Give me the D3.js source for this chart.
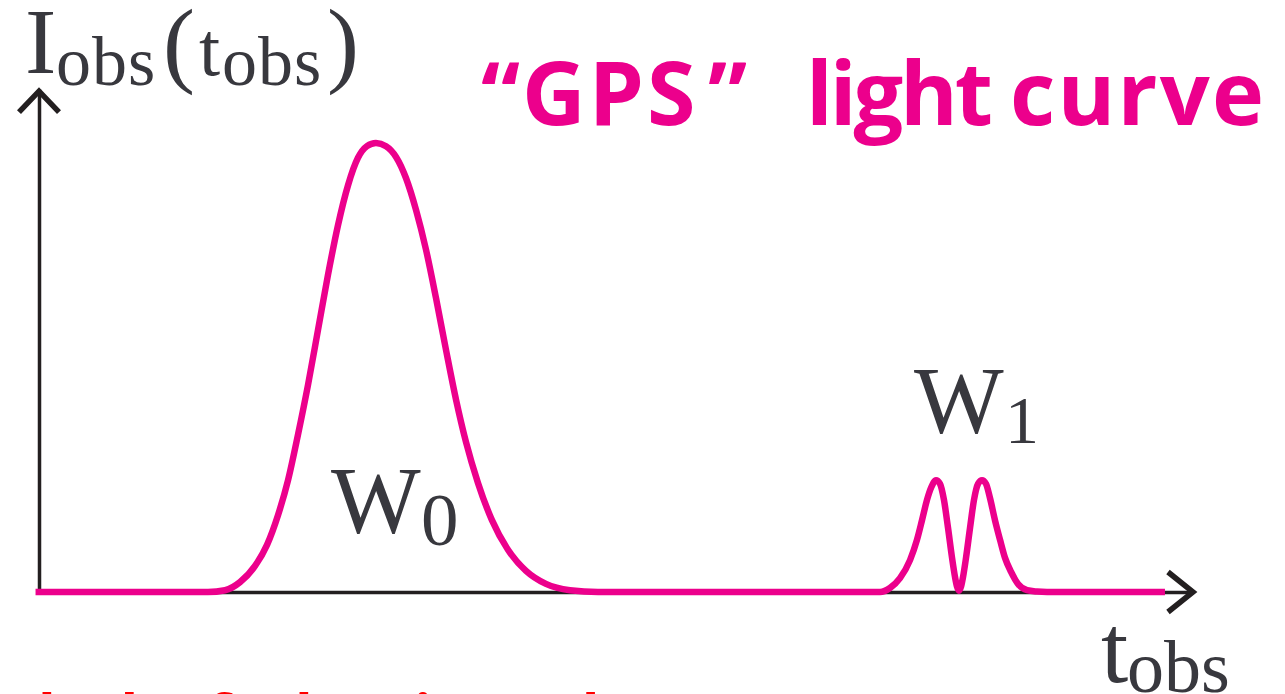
<!DOCTYPE html>
<html>
<head>
<meta charset="utf-8">
<script src="https://cdn.jsdelivr.net/npm/d3@7"></script>
<style>
  html, body { margin: 0; padding: 0; background: #ffffff; overflow: hidden; }
  svg { display: block; }
</style>
</head>
<body>
<svg id="chart" width="1285" height="694"></svg>
<script>
// Observed time (arbitrary units) and normalised intensity of the first, broad pulse W0
const pulseW0Time = [1.464, 1.612, 1.742, 1.872, 1.976, 2.071, 2.158, 2.244, 2.331, 2.418, 2.504,
  2.591, 2.678, 2.764, 2.842, 2.920, 3.007, 3.094, 3.180, 3.267, 3.354, 3.440, 3.527, 3.614,
  3.700, 3.804, 3.925, 4.064, 4.220, 4.393, 4.601, 4.844];
const pulseW0Intensity = [0, 0.004, 0.022, 0.058, 0.105, 0.171, 0.249, 0.350, 0.461, 0.584, 0.706,
  0.817, 0.906, 0.967, 0.993, 1.000, 0.993, 0.969, 0.922, 0.851, 0.762, 0.655, 0.539, 0.428,
  0.334, 0.243, 0.160, 0.094, 0.047, 0.018, 0.004, 0];

// Second episode W1: two narrow sub-pulses
const pulseW1Time = [7.288, 7.374, 7.461, 7.548, 7.608, 7.652, 7.695, 7.730, 7.773, 7.808, 7.842,
  7.877, 7.912, 7.938, 7.955, 7.972, 7.990, 8.007, 8.033, 8.068, 8.102, 8.137, 8.172, 8.206, 8.241,
  8.284, 8.328, 8.371, 8.423, 8.484, 8.562, 8.648, 8.735];
const pulseW1Intensity = [0, 0.009, 0.031, 0.071, 0.116, 0.160, 0.205, 0.232, 0.249, 0.241, 0.205,
  0.143, 0.076, 0.033, 0.012, 0.003, 0.012, 0.033, 0.076, 0.143, 0.205, 0.241, 0.249, 0.241, 0.209,
  0.160, 0.116, 0.076, 0.045, 0.018, 0.004, 0.001, 0];

// Quiescent level before and after the two episodes
const quietStart = [-0.03, 0];
const quietEnd = [9.757, 0];

const pulseNames = ["W", "W"];
const pulseIndices = ["0", "1"];
const titleParts = ["\u201C", "GPS", "\u201D", "light", "curve"];
const footnote = "lack of a lensing echo";

// ---- layout ----
const svg = d3.select("#chart");
const axisColor = "#231f20";
const curveColor = "#ec008c";
const textColor = "#38383e";

const x = d3.scaleLinear().domain([0, 10]).range([39, 1193]);
const y = d3.scaleLinear().domain([0, 1.12]).range([592, 592 - 1.12 * 449]);

// Axes: bare domain lines, no ticks
const xAxis = d3.axisBottom(x).tickValues([]).tickSizeOuter(0);
const yAxis = d3.axisLeft(y).tickValues([]).tickSizeOuter(0);

svg.append("g")
  .attr("transform", `translate(0,${y(0)})`)
  .call(xAxis)
  .call(g => g.select(".domain").attr("stroke", axisColor).attr("stroke-width", 3.5));

svg.append("g")
  .attr("transform", `translate(${x(0)},0)`)
  .call(yAxis)
  .call(g => g.select(".domain").attr("stroke", axisColor).attr("stroke-width", 3.5));

// Chevron arrowheads at the ends of the axes
const xEnd = x(10), yTop = y(1.12), x0 = x(0), y0 = y(0);
svg.append("path")
  .attr("d", `M${xEnd - 25},${y0 - 20}L${xEnd},${y0}L${xEnd - 25},${y0 + 20}`)
  .attr("fill", "none").attr("stroke", axisColor).attr("stroke-width", 5.5)
  .attr("stroke-linejoin", "miter");
svg.append("path")
  .attr("d", `M${x0 - 20},${yTop + 23}L${x0},${yTop + 2}L${x0 + 20},${yTop + 23}`)
  .attr("fill", "none").attr("stroke", axisColor).attr("stroke-width", 5.5)
  .attr("stroke-linejoin", "miter");

// Light curve
const points = [quietStart]
  .concat(pulseW0Time.map((t, i) => [t, pulseW0Intensity[i]]))
  .concat(pulseW1Time.map((t, i) => [t, pulseW1Intensity[i]]))
  .concat([quietEnd]);

const line = d3.line()
  .x(d => x(d[0]))
  .y(d => y(d[1]))
  .curve(d3.curveMonotoneX);

svg.append("path")
  .datum(points)
  .attr("d", line)
  .attr("fill", "none")
  .attr("stroke", curveColor)
  .attr("stroke-width", 6.5)
  .attr("stroke-linejoin", "round");

// Axis labels
const serif = "'Liberation Serif', 'Times New Roman', serif";
const yLabel = svg.append("text")
  .attr("font-family", serif).attr("fill", textColor);
yLabel.append("tspan").attr("x", 25).attr("y", 73).attr("font-size", 94).text("I");
yLabel.append("tspan").attr("x", 56).attr("y", 85).attr("font-size", 70).attr("letter-spacing", 1).text("obs");
yLabel.append("tspan").attr("x", 163).attr("y", 75).attr("font-size", 96).text("(");
yLabel.append("tspan").attr("x", 199).attr("y", 75).attr("font-size", 76).text("t");
yLabel.append("tspan").attr("x", 222).attr("y", 85).attr("font-size", 70).attr("letter-spacing", 1).text("obs");
yLabel.append("tspan").attr("x", 327).attr("y", 75).attr("font-size", 96).text(")");

const xLabel = svg.append("text")
  .attr("font-family", serif).attr("fill", textColor);
xLabel.append("tspan").attr("x", 1101).attr("y", 682).attr("font-size", 98).text("t");
xLabel.append("tspan").attr("x", 1127).attr("y", 692).attr("font-size", 74).text("obs");

// Pulse labels
const pulseLabelPos = [
  { x: 331, y: 533, sx: 421, sy: 545, sub: 75 },
  { x: 914, y: 433, sx: 1005, sy: 443, sub: 68 }
];
pulseNames.forEach((name, i) => {
  const p = pulseLabelPos[i];
  const t = svg.append("text").attr("font-family", serif).attr("fill", textColor);
  t.append("tspan").attr("x", p.x).attr("y", p.y).attr("font-size", 95).text(name);
  t.append("tspan").attr("x", p.sx).attr("y", p.sy).attr("font-size", p.sub).text(pulseIndices[i]);
});

// Title, set piece by piece
const sans = "'Open Sans', 'Noto Sans', sans-serif";
const titlePos = [481, 522, 708, 806, 1010];
const titleLen = [null, null, null, 187, 254];
const titleSpacing = [0, 3, 0, 0, 0];
const title = svg.append("text")
  .attr("font-family", sans).attr("font-weight", 700)
  .attr("font-size", 88).attr("fill", curveColor);
titleParts.forEach((w, i) => {
  const ts = title.append("tspan").attr("x", titlePos[i]).attr("y", 125)
    .attr("letter-spacing", titleSpacing[i]).text(w);
  if (titleLen[i]) ts.attr("textLength", titleLen[i]).attr("lengthAdjust", "spacing");
});

// Footnote, running off the bottom edge
svg.append("text")
  .attr("x", 38).attr("y", 736)
  .attr("font-family", sans).attr("font-weight", 700)
  .attr("font-size", 58).attr("fill", "#ff0000")
  .text(footnote);
</script>
</body>
</html>
